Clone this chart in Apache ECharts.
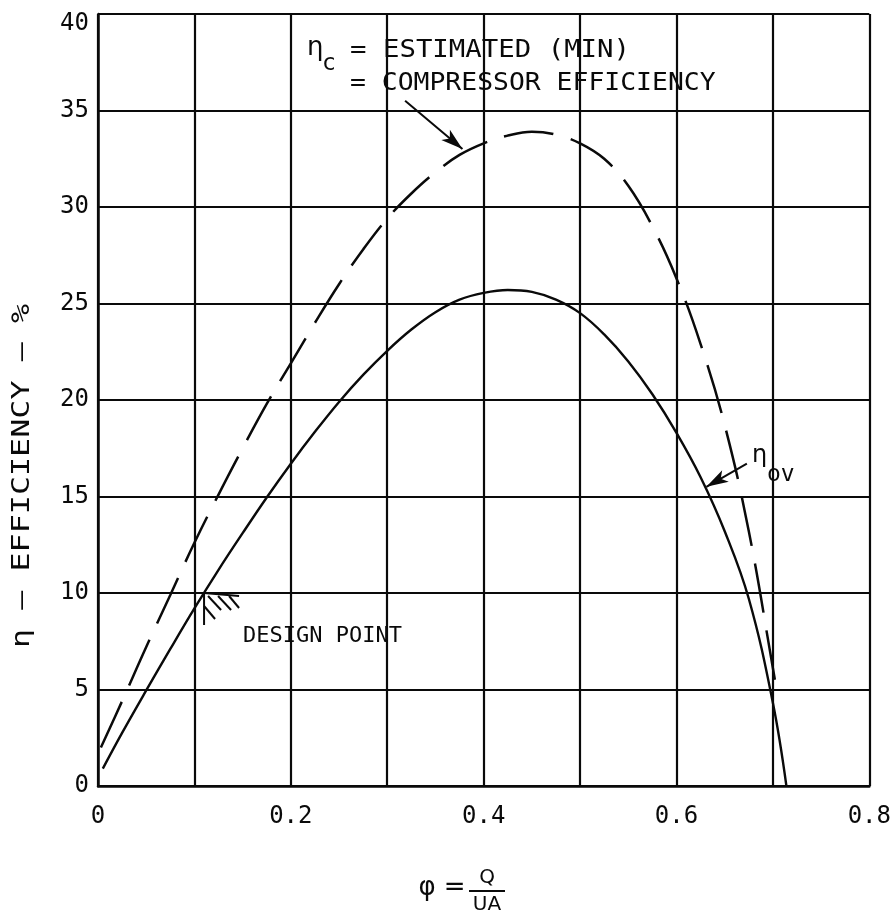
<!DOCTYPE html>
<html>
<head>
<meta charset="utf-8">
<script src="https://cdn.jsdelivr.net/npm/echarts@6/dist/echarts.min.js"></script>
<style>
  html, body { margin: 0; padding: 0; background: #fff; }
  #main { width: 894px; height: 919px; }
</style>
</head>
<body>
<div id="main"></div>
<script>
// tick labels
const xTickValues = [0, 0.2, 0.4, 0.6, 0.8];
const xTickLabels = ['0', '0.2', '0.4', '0.6', '0.8'];
const yTickValues = [0, 5, 10, 15, 20, 25, 30, 35, 40];
const yTickLabels = ['0', '5', '10', '15', '20', '25', '30', '35', '{t|40}'];

// overall efficiency, eta_ov (solid curve)
const phiOv = [0.005, 0.025, 0.05, 0.075, 0.1, 0.125, 0.15, 0.175, 0.2, 0.225, 0.25, 0.275, 0.3, 0.325, 0.35,
  0.375, 0.4, 0.425, 0.45, 0.475, 0.5, 0.525, 0.55, 0.575, 0.6, 0.625, 0.65, 0.675, 0.7, 0.714];
const etaOv = [0.9, 2.75, 4.95, 7.1, 9.2, 11.2, 13.1, 14.95, 16.7, 18.35, 19.9, 21.3, 22.55, 23.65, 24.55,
  25.2, 25.55, 25.7, 25.6, 25.2, 24.5, 23.4, 22.0, 20.3, 18.3, 16.0, 13.2, 9.7, 4.3, 0];

// estimated compressor efficiency, eta_c (dashed curve)
const phiC = [0.003, 0.025, 0.05, 0.075, 0.1, 0.125, 0.15, 0.175, 0.2, 0.225, 0.25, 0.275, 0.3, 0.325, 0.35,
  0.375, 0.4, 0.425, 0.45, 0.475, 0.5, 0.525, 0.55, 0.575, 0.6, 0.625, 0.65, 0.675, 0.7, 0.704];
const etaC = [2.0, 4.4, 7.2, 9.9, 12.6, 15.1, 17.5, 19.8, 21.9, 24.0, 26.0, 27.8, 29.4, 30.7, 31.8,
  32.7, 33.3, 33.7, 33.9, 33.75, 33.3, 32.5, 31.1, 29.0, 26.3, 22.9, 18.7, 13.2, 6.1, 4.9];

const designPoint = [0.11, 10];

// arrow pointers (tail, head) in data units
const arrowC = [[0.3185, 35.5], [0.378, 33.0]];
const arrowOv = [[0.673, 16.7], [0.631, 15.5]];

const ink = '#0a0a0a';
const mono = '"DejaVu Sans Mono", monospace';
const sans = '"DejaVu Sans", sans-serif';

const chart = echarts.init(document.getElementById('main'));

const pick = (vals, labels) => v => {
  const i = vals.findIndex(t => Math.abs(t - v) < 1e-6);
  return i >= 0 ? labels[i] : '';
};

const arrowLine = (a) => [
  {coord: a[0], symbol: 'none'},
  {coord: a[1], symbol: 'arrow', symbolSize: [10, 22]}
];

const option = {
  animation: false,
  grid: {left: 98, right: 23, top: 14, bottom: 133},
  xAxis: {
    type: 'value',
    min: 0,
    max: 0.8,
    interval: 0.1,
    axisLine: {show: true, lineStyle: {color: ink, width: 2.5}},
    axisTick: {show: false},
    splitLine: {show: true, lineStyle: {color: ink, width: 2.2}},
    axisLabel: {
      margin: 19,
      color: ink,
      fontFamily: mono,
      fontSize: 24,
      formatter: pick(xTickValues, xTickLabels)
    }
  },
  yAxis: {
    type: 'value',
    min: 0,
    max: 40,
    interval: 5,
    axisLine: {show: true, lineStyle: {color: ink, width: 2.5}},
    axisTick: {show: false},
    splitLine: {show: true, lineStyle: {color: ink, width: 2.2}},
    axisLabel: {
      margin: 9,
      color: ink,
      fontFamily: mono,
      fontSize: 24,
      formatter: pick(yTickValues, yTickLabels),
      rich: {t: {fontFamily: mono, fontSize: 24, color: ink, padding: [20, 0, 0, 0]}}
    }
  },
  graphic: [
    // y axis title
    {type: 'text', x: 22, y: 476, rotation: Math.PI / 2, scaleX: 1.27,
      style: {text: 'η — EFFICIENCY — %', font: '25px ' + mono, fill: ink, align: 'center', verticalAlign: 'middle'}},
    // x axis title
    {type: 'text', x: 442, y: 888, style: {text: 'φ =', font: '26px ' + sans, fill: ink, align: 'center', verticalAlign: 'middle'}},
    {type: 'text', x: 487, y: 878, style: {text: 'Q', font: '20px ' + sans, fill: ink, align: 'center', verticalAlign: 'middle'}},
    {type: 'line', shape: {x1: 469, y1: 891, x2: 505, y2: 891}, style: {stroke: ink, lineWidth: 2}},
    {type: 'text', x: 487, y: 905, style: {text: 'UA', font: '20px ' + sans, fill: ink, align: 'center', verticalAlign: 'middle'}},
    // eta_c annotation
    {type: 'text', x: 307, y: 48, style: {text: 'η', font: '26px ' + sans, fill: ink, align: 'left', verticalAlign: 'middle'}},
    {type: 'text', x: 322, y: 64, style: {text: 'c', font: '23px ' + mono, fill: ink, align: 'left', verticalAlign: 'middle'}},
    {type: 'text', x: 350, y: 51, scaleX: 1.14,
      style: {text: '= ESTIMATED (MIN)', font: '24px ' + mono, fill: ink, align: 'left', verticalAlign: 'middle'}},
    {type: 'text', x: 350, y: 84, scaleX: 1.1,
      style: {text: '= COMPRESSOR EFFICIENCY', font: '24px ' + mono, fill: ink, align: 'left', verticalAlign: 'middle'}},
    // eta_ov annotation
    {type: 'text', x: 752, y: 456, style: {text: 'η', font: '24px ' + sans, fill: ink, align: 'left', verticalAlign: 'middle'}},
    {type: 'text', x: 767, y: 475, style: {text: 'ov', font: '23px ' + mono, fill: ink, align: 'left', verticalAlign: 'middle'}},
    // design point label
    {type: 'text', x: 243, y: 636, style: {text: 'DESIGN POINT', font: '22px ' + mono, fill: ink, align: 'left', verticalAlign: 'middle'}}
  ],
  series: [
    {
      name: 'overall',
      type: 'line',
      data: phiOv.map((x, i) => [x, etaOv[i]]),
      smooth: 0.4,
      showSymbol: false,
      lineStyle: {color: ink, width: 2.4},
      markLine: {
        silent: true,
        label: {show: false},
        lineStyle: {color: ink, width: 2, type: 'solid'},
        data: [arrowLine(arrowOv)]
      }
    },
    {
      name: 'compressor',
      type: 'line',
      data: phiC.map((x, i) => [x, etaC[i]]),
      smooth: 0.4,
      showSymbol: false,
      lineStyle: {color: ink, width: 2.5, type: [50, 18]},
      markLine: {
        silent: true,
        label: {show: false},
        lineStyle: {color: ink, width: 2, type: 'solid'},
        data: [arrowLine(arrowC)]
      }
    },
    {
      name: 'design',
      type: 'custom',
      data: [designPoint],
      renderItem: (params, api) => {
        const p = api.coord([api.value(0), api.value(1)]);
        const st = {stroke: ink, lineWidth: 2};
        const seg = (x1, y1, x2, y2) => ({type: 'line', shape: {x1: p[0] + x1, y1: p[1] + y1, x2: p[0] + x2, y2: p[1] + y2}, style: st});
        return {
          type: 'group',
          children: [
            seg(0, 0, 35, 3),
            seg(0, 0, 0, 32),
            seg(4, 3, 17, 17),
            seg(14, 3, 27, 17),
            seg(25, 3, 35, 15),
            seg(0, 13, 11, 26)
          ]
        };
      }
    }
  ]
};

chart.setOption(option);
</script>
</body>
</html>
